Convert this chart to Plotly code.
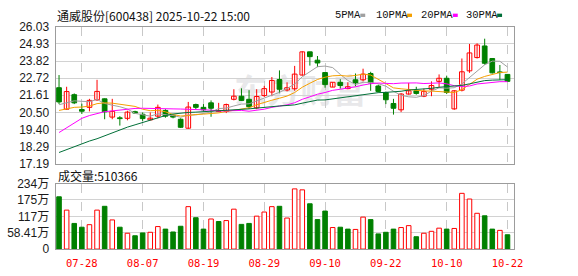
import plotly.graph_objects as go

# ---------------- data ----------------
dates = ["07-23", "07-24", "07-25", "07-28", "07-29", "07-30", "07-31", "08-01", "08-04", "08-05",
         "08-06", "08-07", "08-08", "08-11", "08-12", "08-13", "08-14", "08-15", "08-18", "08-19",
         "08-20", "08-21", "08-22", "08-25", "08-26", "08-27", "08-28", "08-29", "09-01", "09-02",
         "09-03", "09-04", "09-05", "09-08", "09-09", "09-10", "09-11", "09-12", "09-15", "09-16",
         "09-17", "09-18", "09-19", "09-22", "09-23", "09-24", "09-25", "09-26", "09-29", "09-30",
         "10-09", "10-10", "10-13", "10-14", "10-15", "10-16", "10-17", "10-20", "10-21", "10-22"]

opens = [22.10, 20.71, 21.65, 20.69, 20.83, 21.32, 21.38, 20.20, 20.15, 20.12,
         20.55, 20.38, 20.02, 20.26, 20.63, 20.30, 20.06, 19.48, 21.01, 20.83,
         21.12, 20.57, 20.57, 21.35, 21.55, 21.35, 20.80, 21.59, 21.82, 22.63,
         21.95, 22.03, 22.92, 24.42, 23.88, 23.08, 22.14, 22.45, 22.04, 22.61,
         22.61, 23.02, 22.21, 21.79, 21.08, 20.67, 21.69, 21.90, 21.55, 22.00,
         22.51, 22.71, 20.73, 21.94, 23.19, 24.05, 24.80, 23.99, 23.12, 22.96]
highs = [22.92, 22.16, 21.73, 21.07, 21.38, 22.61, 21.40, 21.38, 20.26, 20.61,
         20.61, 20.50, 20.50, 21.01, 20.71, 20.40, 20.12, 21.18, 21.07, 21.04,
         21.28, 21.12, 21.07, 22.00, 22.06, 21.94, 22.00, 22.22, 22.79, 23.22,
         22.45, 23.51, 24.45, 24.42, 24.15, 23.08, 22.45, 22.65, 22.45, 23.02,
         23.33, 23.13, 22.30, 21.85, 21.38, 21.75, 22.41, 22.16, 22.04, 22.51,
         22.96, 22.88, 21.94, 23.99, 24.93, 24.97, 25.27, 23.99, 23.57, 22.96]
lows = [21.04, 20.67, 21.04, 20.40, 20.57, 21.24, 20.06, 20.06, 19.65, 19.99,
        20.40, 19.95, 20.00, 20.12, 20.16, 20.12, 19.50, 19.44, 20.71, 20.57,
        20.22, 20.52, 20.46, 21.28, 21.24, 20.73, 20.71, 21.49, 21.55, 21.74,
        21.86, 21.90, 22.88, 23.53, 23.43, 22.10, 22.14, 22.04, 22.00, 22.20,
        22.51, 21.90, 21.79, 21.04, 20.36, 20.52, 21.65, 21.65, 21.49, 21.55,
        22.10, 21.69, 20.67, 21.86, 23.06, 23.99, 23.59, 23.02, 22.61, 22.51]
closes = [21.18, 21.85, 21.12, 20.58, 21.28, 21.86, 20.54, 20.57, 20.10, 20.52,
          20.46, 20.10, 20.13, 20.83, 20.26, 20.20, 19.54, 20.85, 20.83, 20.67,
          20.77, 20.61, 21.01, 21.55, 21.28, 20.87, 21.53, 22.04, 22.57, 22.00,
          22.10, 22.98, 24.42, 24.11, 23.70, 22.30, 22.45, 22.24, 22.16, 22.41,
          22.98, 22.41, 21.86, 21.32, 20.77, 21.69, 21.90, 21.73, 21.86, 22.24,
          22.71, 21.79, 21.90, 23.13, 24.35, 24.86, 23.68, 23.06, 23.08, 22.51]

# volume in 万 (10k shares)
volumes = [186.5, 139.0, 91.5, 78.0, 87.0, 139.0, 152.6, 104.0, 78.0, 56.5,
           47.5, 57.6, 59.9, 80.3, 71.2, 61.0, 81.4, 151.4, 111.9, 71.2,
           107.3, 98.3, 101.7, 142.4, 88.1, 91.5, 117.5, 132.2, 151.4, 152.6,
           110.7, 214.7, 211.3, 161.6, 105.1, 135.6, 76.8, 78.0, 71.2, 70.1,
           114.1, 105.1, 54.2, 59.9, 71.2, 76.8, 83.6, 44.1, 56.5, 63.3,
           74.6, 71.2, 73.5, 198.9, 178.5, 127.7, 118.7, 71.2, 66.7, 51.0366]

ma5 = [21.00, 21.15, 21.25, 21.22, 21.20, 21.34, 21.08, 20.97, 20.87, 20.72,
       20.44, 20.35, 20.26, 20.41, 20.36, 20.30, 20.19, 20.34, 20.34, 20.42,
       20.53, 20.75, 20.78, 20.92, 21.04, 21.06, 21.25, 21.45, 21.66, 21.80,
       22.05, 22.34, 22.81, 23.12, 23.46, 23.50, 23.40, 22.96, 22.57, 22.31,
       22.45, 22.44, 22.36, 22.20, 21.87, 21.61, 21.51, 21.48, 21.59, 21.88,
       22.09, 22.07, 22.10, 22.35, 22.78, 23.21, 23.58, 23.82, 23.81, 23.44]
ma10 = [20.63, 20.75, 20.83, 20.85, 20.91, 21.07, 21.12, 21.10, 21.02, 20.96,
        20.89, 20.71, 20.61, 20.64, 20.54, 20.37, 20.27, 20.30, 20.37, 20.39,
        20.42, 20.47, 20.56, 20.63, 20.73, 20.80, 21.00, 21.12, 21.29, 21.42,
        21.56, 21.79, 22.13, 22.39, 22.63, 22.78, 22.87, 22.89, 22.85, 22.89,
        22.98, 22.92, 22.66, 22.38, 22.09, 22.03, 21.97, 21.92, 21.89, 21.88,
        21.85, 21.79, 21.79, 21.97, 22.33, 22.65, 22.83, 22.96, 23.08, 23.11]
ma20 = [19.20, 19.50, 19.85, 20.12, 20.30, 20.45, 20.55, 20.60, 20.65, 20.72,
        20.76, 20.77, 20.77, 20.76, 20.74, 20.73, 20.72, 20.71, 20.70, 20.67,
        20.65, 20.59, 20.59, 20.63, 20.63, 20.58, 20.63, 20.71, 20.83, 20.91,
        20.99, 21.13, 21.35, 21.51, 21.68, 21.79, 21.93, 22.00, 22.07, 22.16,
        22.27, 22.36, 22.40, 22.39, 22.36, 22.40, 22.42, 22.41, 22.37, 22.38,
        22.41, 22.35, 22.23, 22.18, 22.21, 22.34, 22.40, 22.44, 22.49, 22.49]
ma30 = [17.91, 18.10, 18.30, 18.50, 18.65, 18.80, 19.00, 19.20, 19.38, 19.55,
        19.70, 19.86, 19.98, 20.15, 20.30, 20.40, 20.46, 20.50, 20.52, 20.55,
        20.57, 20.58, 20.60, 20.63, 20.68, 20.73, 20.78, 20.84, 20.88, 20.92,
        20.95, 20.99, 21.10, 21.22, 21.30, 21.31, 21.38, 21.43, 21.50, 21.57,
        21.65, 21.73, 21.78, 21.80, 21.82, 21.87, 21.95, 21.98, 22.01, 22.06,
        22.13, 22.17, 22.20, 22.25, 22.35, 22.48, 22.56, 22.59, 22.61, 22.62]

price_ticks = [17.19, 18.29, 19.40, 20.50, 21.61, 22.72, 23.82, 24.93, 26.03]
vol_ticks = [0, 58.41, 116.82, 175.23, 233.64]
vol_tick_text = ["0", "58.41万", "117万", "175万", "234万"]
date_ticks = ["07-28", "08-07", "08-19", "08-29", "09-10", "09-22", "10-10", "10-22"]
title_text = "通威股份[600438] 2025-10-22 15:00"
volume_label = "成交量"
last_volume = 510366
ma_names = ["5PMA", "10PMA", "20PMA", "30PMA"]

# ---------------- style ----------------
W, H = 578, 276
RED = "#ff0000"
GREEN = "#008000"
MA_COLORS = ["#a0a0a0", "#f5a000", "#ff00ff", "#006f38"]
AXIS_LINE = "#9c9c9c"
GRID = "#d2d2d2"
VGRID = "#c8c8c8"
NUM_FONT = "Liberation Sans, Arial, Noto Sans CJK SC"
CJK_FONT = "Noto Sans CJK SC"


def px(x):
    return x / W


def py(y):
    return 1 - y / H


idx = list(range(len(dates)))
up = [i for i in idx if closes[i] >= opens[i]]
dn = [i for i in idx if closes[i] < opens[i]]


def wicks(ids):
    xs, ys = [], []
    for i in ids:
        xs += [i, i, None]
        ys += [lows[i], highs[i], None]
    return xs, ys


fig = go.Figure()

# wicks
for ids, col in ((up, RED), (dn, GREEN)):
    wx, wy = wicks(ids)
    fig.add_trace(go.Scatter(x=wx, y=wy, mode="lines", line=dict(color=col, width=1),
                             hoverinfo="skip", xaxis="x", yaxis="y"))

# bodies
fig.add_trace(go.Bar(x=up, base=[opens[i] for i in up],
                     y=[max(closes[i] - opens[i], 0.012) for i in up], width=0.62,
                     marker=dict(color="white", line=dict(color=RED, width=1)),
                     xaxis="x", yaxis="y"))
fig.add_trace(go.Bar(x=dn, base=[closes[i] for i in dn],
                     y=[max(opens[i] - closes[i], 0.012) for i in dn], width=0.62,
                     marker=dict(color=GREEN, line=dict(color=GREEN, width=1)),
                     xaxis="x", yaxis="y"))

# moving averages
for series, col in zip((ma5, ma10, ma20, ma30), MA_COLORS):
    fig.add_trace(go.Scatter(x=idx, y=series, mode="lines", line=dict(color=col, width=1),
                             xaxis="x", yaxis="y"))

# volume
vup = [i for i in idx if (closes[i] > closes[i - 1] if i > 0 else closes[i] >= opens[i])]
vdn = [i for i in idx if i not in vup]
fig.add_trace(go.Bar(x=vup, y=[volumes[i] for i in vup], width=0.6,
                     marker=dict(color="white", line=dict(color=RED, width=1)),
                     xaxis="x2", yaxis="y2"))
fig.add_trace(go.Bar(x=vdn, y=[volumes[i] for i in vdn], width=0.6,
                     marker=dict(color=GREEN, line=dict(color=GREEN, width=1)),
                     xaxis="x2", yaxis="y2"))

tick_idx = [dates.index(d) for d in date_ticks]
xrange_ = [-0.45, len(dates) - 0.16]
xdom = [px(56.5), px(522)]

common_x = dict(domain=xdom, range=xrange_, tickvals=tick_idx, showgrid=True,
                gridcolor=VGRID, griddash="dash", gridwidth=1, showline=True, mirror=True,
                linecolor=AXIS_LINE, linewidth=1, zeroline=False, ticks="")

fig.update_layout(
    width=W, height=H, margin=dict(l=0, r=0, t=0, b=0),
    paper_bgcolor="white", plot_bgcolor="rgba(0,0,0,0)",
    showlegend=False, barmode="overlay", hovermode=False,
    xaxis=dict(anchor="y", showticklabels=False, **common_x),
    xaxis2=dict(anchor="y2", showticklabels=True, ticktext=date_ticks,
                tickfont=dict(family="DejaVu Sans Mono", size=10.5, color=RED),
                ticklabelstandoff=4, **common_x),
    yaxis=dict(anchor="x", domain=[py(165), py(21)],
               range=[price_ticks[0] - 0.001, price_ticks[-1] + 0.001],
               tickvals=price_ticks, ticktext=[f"{v:.2f}" for v in price_ticks],
               tickfont=dict(family=NUM_FONT, size=12, color="#1a1a1a"),
               showgrid=True, gridcolor=GRID, gridwidth=1, showline=True, mirror=True,
               linecolor=AXIS_LINE, zeroline=False, ticks="", ticklabelstandoff=3),
    yaxis2=dict(anchor="x2", domain=[py(255), py(186)],
                range=[0, vol_ticks[-1] * 1.0005],
                tickvals=vol_ticks, ticktext=vol_tick_text,
                tickfont=dict(family=NUM_FONT, size=12, color="#1a1a1a"),
                showgrid=True, gridcolor=GRID, gridwidth=1, showline=True, mirror=True,
                linecolor=AXIS_LINE, zeroline=False, ticks="", ticklabelstandoff=3),
)

annotations = [
    dict(text=title_text, x=px(56), y=py(8.5), xanchor="left", yanchor="middle",
         font=dict(family=CJK_FONT, size=12, color="#111")),
    dict(text=f"{volume_label}:{last_volume}", x=px(57), y=py(177), xanchor="left",
         yanchor="middle", font=dict(family=CJK_FONT, size=12, color="#111")),
]
legend_text_x = [338, 380, 425.5, 471.5]
legend_box_x = [366, 413.5, 460, 505]
shapes = []
for name, tx, bx, col in zip(ma_names, legend_text_x, legend_box_x, MA_COLORS):
    annotations.append(dict(text=name, x=px(tx), y=py(8.8), xanchor="left", yanchor="middle",
                            font=dict(family="Liberation Mono", size=10.5, color="#111")))
    shapes.append(dict(type="rect", xref="paper", yref="paper", x0=px(bx), x1=px(bx + 5),
                       y0=py(10.5), y1=py(7), fillcolor=col, line=dict(width=0)))
for a in annotations:
    a.update(xref="paper", yref="paper", showarrow=False)

# faint watermark behind the candles
shapes.append(dict(type="rect", xref="paper", yref="paper", x0=px(225), x1=px(385),
                   y0=py(108), y1=py(76), line=dict(width=0), fillcolor="rgba(0,0,0,0)",
                   layer="below",
                   label=dict(text="<b>东方财富</b>", textposition="middle center",
                              font=dict(family=CJK_FONT, size=33, color="#e8e8ea"))))

fig.update_layout(annotations=annotations, shapes=shapes)
fig.write_html("out.html")
